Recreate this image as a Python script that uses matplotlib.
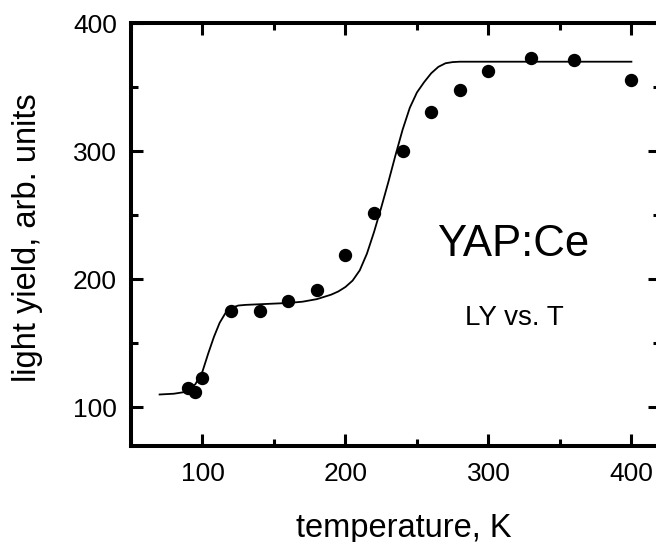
import matplotlib
matplotlib.use("Agg")
import matplotlib.pyplot as plt
from matplotlib.ticker import MultipleLocator

plt.rcParams['font.family'] = ['Liberation Sans', 'DejaVu Sans']

# measured light yield
temp_meas = [90, 95, 100, 120, 140, 160, 180, 200, 220, 240, 260, 280, 300, 330, 360, 400]
ly_meas = [115, 112, 123, 175, 175, 183, 192, 219, 252, 300, 331, 348, 363, 373, 371, 356]

# fitted curve
temp_fit = [70, 80, 88, 95, 100, 104, 108, 112, 116, 120, 125, 130, 140, 150, 160,
            170, 180, 190, 195, 200, 205, 210, 215, 220, 225, 230, 235, 240, 245,
            250, 255, 260, 265, 270, 275, 280, 300, 350, 400]
ly_fit = [110, 110.6, 112, 118, 128, 142, 155, 166, 173.5, 177.5, 179.5, 180, 180.5, 181, 181.5,
          182.5, 184.5, 188, 190.5, 194, 199, 207, 220, 237, 256, 276, 297, 317, 334,
          346, 354, 361, 366, 368.8, 369.7, 370, 370, 370, 370]

fig = plt.figure(figsize=(6.56, 5.42), dpi=100)
ax = fig.add_axes([0.1997, 0.1777, 0.8064, 0.7793])

ax.plot(temp_fit, ly_fit, color='black', linewidth=1.3)
ax.plot(temp_meas, ly_meas, 'o', color='black', markersize=8.6)

ax.set_xlim(50, 420)
ax.set_ylim(70, 400)
ax.xaxis.set_major_locator(MultipleLocator(100))
ax.xaxis.set_minor_locator(MultipleLocator(50))
ax.yaxis.set_major_locator(MultipleLocator(100))
ax.yaxis.set_minor_locator(MultipleLocator(50))

for s in ax.spines.values():
    s.set_linewidth(2.9)
ax.tick_params(which='both', direction='in', top=True, right=True, width=2.2)
ax.tick_params(which='major', length=8.6, labelsize=19)
ax.tick_params(which='minor', length=5)
ax.tick_params(axis='x', which='major', pad=12)
ax.tick_params(axis='y', which='major', pad=10)

ax.text(317, 227, 'YAP:Ce', fontsize=31.5, ha='center', va='center')
ax.text(318, 170, 'LY vs. T', fontsize=20, ha='center', va='center')

fig.text(403.5 / 656, 5.5 / 542, 'temperature, K', fontsize=23.5, ha='center', va='baseline')
fig.text(28 / 656, 1 - 238 / 542, 'light yield, arb. units', fontsize=23.5,
         rotation=90, ha='center', va='center')

fig.savefig('out.png', dpi=100)
